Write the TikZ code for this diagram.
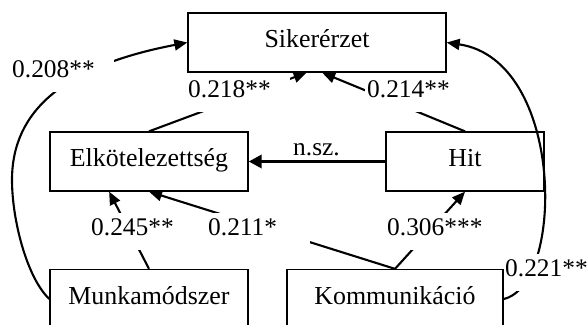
\documentclass[tikz,border=0pt]{standalone}
\usepackage{fontspec}
\setmainfont{Liberation Serif}
\usetikzlibrary{arrows.meta,backgrounds,calc}
\begin{document}
\begin{tikzpicture}[x=1bp,y=-1bp,
  box/.style={draw, line width=1.3bp, minimum height=59bp, inner sep=0pt,
    text height=20bp, text depth=10bp, font=\fontsize{26}{30}\selectfont},
  conn/.style={line width=2.1bp, -{Triangle[length=13bp,width=11bp]}},
  thickconn/.style={line width=3.5bp, -{Triangle[length=13bp,width=13bp]}},
  lbl/.style={fill=white, inner xsep=2bp, inner ysep=0pt, text height=22bp,
    text depth=14.5bp, text width=100bp, align=left, anchor=base west,
    font=\fontsize{25.5}{30}\selectfont},
  plainlbl/.style={inner sep=0pt, anchor=base, font=\fontsize{25.5}{30}\selectfont}
  ]
\useasboundingbox (0,0) rectangle (588,324);
\clip (0,0) rectangle (588,324);
% boxes
\node[box, minimum width=258bp] (sik)  at (317,42.5)  {Sikerérzet};
\node[box, minimum width=198bp] (elk)  at (149,161.5) {Elkötelezettség};
\node[box, minimum width=158bp] (hit)  at (465,161.5) {Hit};
\node[box, minimum width=198bp] (munk) at (149,299)   {Munkamódszer};
\node[box, minimum width=216bp] (kom)  at (395,299)   {Kommunikáció};
\begin{scope}[on background layer]
  \clip (0,0) rectangle (588,324);
  % connectors
  \draw[conn] (elk.north) -- ($(sik.south west)!0.46!(sik.south east)$);
  \draw[conn] (hit.north) -- ($(sik.south west)!0.52!(sik.south east)$);
  \draw[conn] (munk.north) -- ($(elk.south west)!0.30!(elk.south east)$);
  \draw[conn] (kom.north) -- (elk.south);
  \draw[conn] (kom.north) -- (hit.south);
  \draw[thickconn] (hit.west) -- (elk.east);
  \draw[conn] (munk.west) .. controls (27,278) and (12,220) .. (12,180)
                          .. controls (12,110) and (65,66) .. (sik.west);
  \draw[conn] (kom.east) .. controls (565,285) and (565,60) .. (sik.east);
  % labels
  \node[lbl] (l208) at (10,77)   {0.208**};
  \node[lbl] (l218) at (186,97)  {0.218**};
  \node[lbl] (l214) at (365,97)  {0.214**};
  \node[lbl] (l245) at (89,235)  {0.245**};
  \node[lbl] (l211) at (206,235) {0.211*};
  \node[lbl] (l306) at (385,235) {0.306***};
  \node[lbl] (l221) at (503,276) {0.221**};
  \node[plainlbl] (nsz) at (316.5,155) {n.sz.};
\end{scope}
\end{tikzpicture}
\end{document}
